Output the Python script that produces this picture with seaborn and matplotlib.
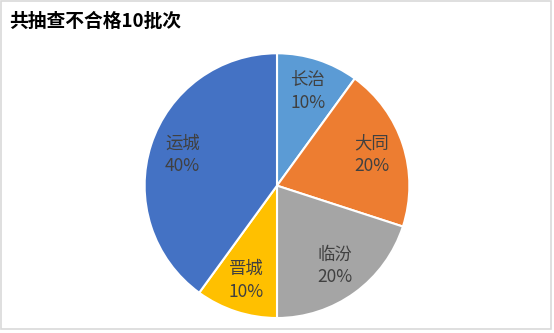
import matplotlib
matplotlib.use("Agg")
import matplotlib.pyplot as plt
import seaborn as sns
from matplotlib.patches import Rectangle

sns.set_theme(style="white")
plt.rcParams['font.family'] = ['Noto Sans CJK SC', 'DejaVu Sans']

categories = ["长治", "大同", "临汾", "晋城", "运城"]
values = [1, 2, 2, 1, 4]
percents = ["10%", "20%", "20%", "10%", "40%"]
colors = ["#5B9BD5", "#ED7D31", "#A5A5A5", "#FFC000", "#4472C4"]
title = "共抽查不合格10批次"

fig = plt.figure(figsize=(5.54, 3.33), dpi=100)
ax = fig.add_axes([0.26, 0.045, 0.48, 0.795])
labels = [f"{c}\n{p}" for c, p in zip(categories, percents)]
wedges, texts = ax.pie(values, colors=colors, startangle=90, counterclock=False,
                       labels=labels, labeldistance=0.75,
                       wedgeprops=dict(edgecolor="white", linewidth=1.5),
                       textprops=dict(color="#404040", fontsize=12.5, ha="center", va="center",
                                      linespacing=1.35))
ax.set_aspect("equal")
ax.set_xlim(-1.0, 1.0)
ax.set_ylim(-1.0, 1.0)

fig.text(0.016, 0.935, title, fontsize=13.5, fontweight="bold", color="#000000",
         ha="left", va="center")
fig.patches.append(Rectangle((0.002, 0.012), 0.993, 0.985, transform=fig.transFigure,
                             fill=False, edgecolor="#D9D9D9", linewidth=1.2))
fig.savefig("out.png", dpi=100)
